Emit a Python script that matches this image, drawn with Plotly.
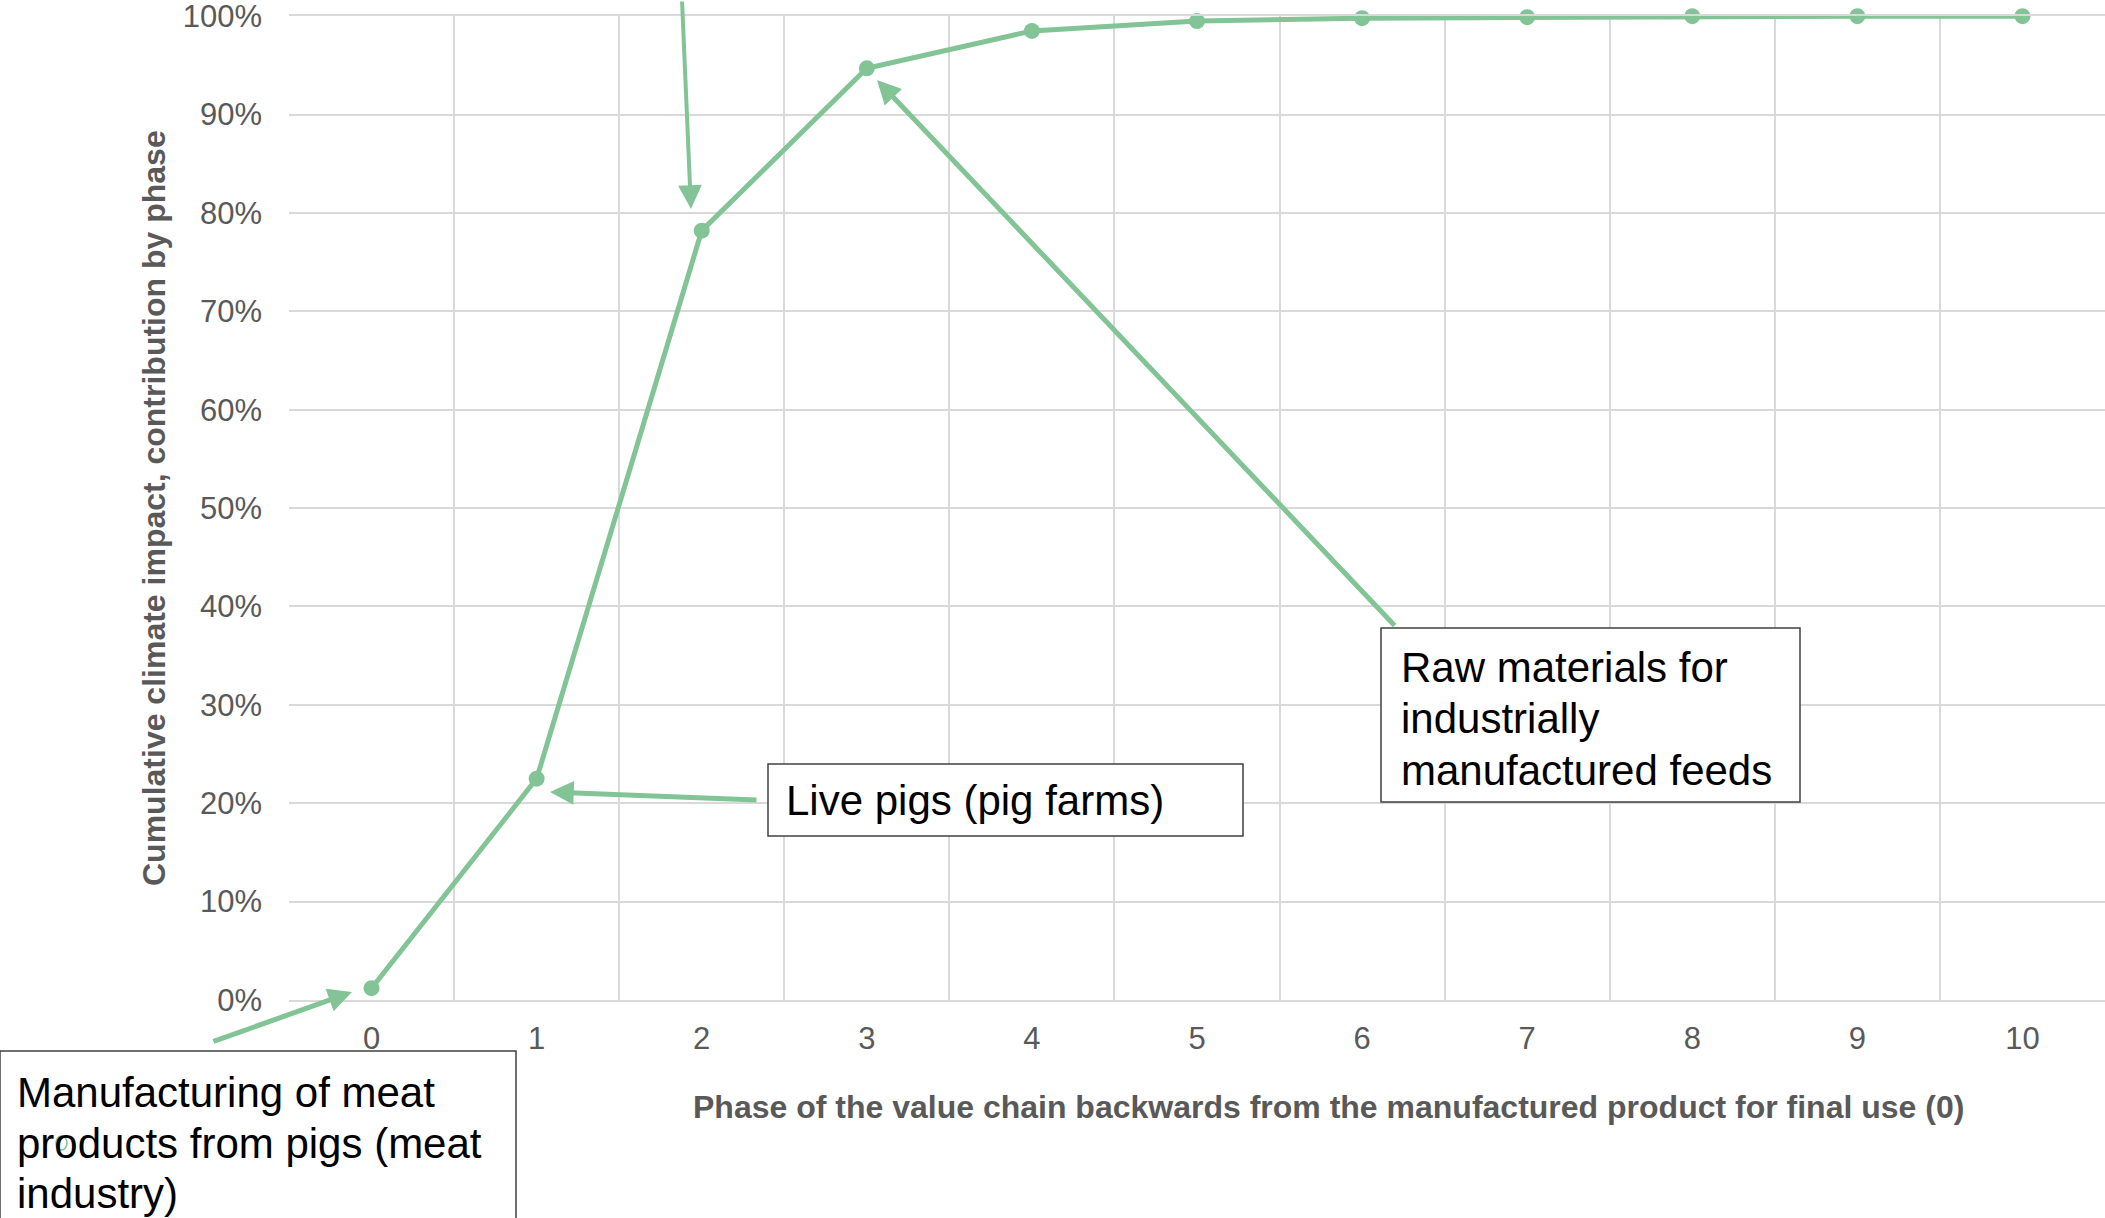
import plotly.graph_objects as go

# ---- data ----
phases = [0, 1, 2, 3, 4, 5, 6, 7, 8, 9, 10]
phase_labels = ["0", "1", "2", "3", "4", "5", "6", "7", "8", "9", "10"]
cumulative_share = [0.012, 0.225, 0.782, 0.947, 0.985, 0.995, 0.998, 0.999, 1.0, 1.0, 1.0]
y_ticks = [0.0, 0.1, 0.2, 0.3, 0.4, 0.5, 0.6, 0.7, 0.8, 0.9, 1.0]
x_title = "Phase of the value chain backwards from the manufactured product for final use (0)"
y_title = "Cumulative climate impact, contribution by phase"
label_live = ["Live pigs (pig farms)"]
label_raw = ["Raw materials for", "industrially", "manufactured feeds"]
label_manu = ["Manufacturing of meat", "products from pigs (meat", "industry)"]

W, H = 2105, 1218
L, R, T, B = 289, 0, 16, 218
PW = W - L - R
PH = H - T - B

GREEN = "rgb(130,196,150)"
GRID = "#D9D9D9"
TXT = "#595959"
FONT = "Liberation Sans, Arial, sans-serif"


def px(x):
    return (x - L) / PW


def py(y):
    return (T + PH - y) / PH


fig = go.Figure()
fig.add_trace(go.Scatter(
    x=phases, y=cumulative_share, mode="lines+markers",
    line=dict(color=GREEN, width=5),
    marker=dict(color=GREEN, size=16),
    cliponaxis=False, showlegend=False,
))

annotations = []
shapes = []

# arrows (pixel positions of the reference): tail -> head, width
arrows = [
    ((682, -20), (691, 209), 4),
    ((1396, 627), (877, 80), 5),
    ((758, 800), (550, 792), 5),
    ((212, 1042), (352, 992), 5),
]
for (sx, sy), (ex, ey), w in arrows:
    annotations.append(dict(
        xref="paper", yref="paper", axref="pixel", ayref="pixel",
        x=px(ex), y=py(ey), ax=sx - ex, ay=sy - ey, text="",
        showarrow=True, arrowhead=2, arrowsize=0.95 * 5 / w, arrowwidth=w,
        arrowcolor=GREEN, standoff=0, startstandoff=0,
    ))

# boxes
boxes = [(768, 764, 1243, 836), (1381, 628, 1800, 802), (0, 1051, 516, 1240)]
for x0, y0, x1, y1 in boxes:
    shapes.append(dict(type="rect", xref="paper", yref="paper",
                       x0=px(x0), x1=px(x1), y0=py(y0), y1=py(y1),
                       line=dict(color="#404040", width=1.5), fillcolor="white",
                       layer="above"))

# stray marker artifact
shapes.append(dict(type="circle", xref="paper", yref="paper",
                   x0=px(56), x1=px(67), y0=py(1136), y1=py(1150),
                   line=dict(color=GREEN, width=1.5), layer="above"))


def add_lines(lines, left, centers):
    for t, c in zip(lines, centers):
        annotations.append(dict(
            xref="paper", yref="paper", x=px(left), y=py(c), text=t,
            xanchor="left", yanchor="middle", showarrow=False,
            font=dict(family=FONT, size=42, color="black"),
        ))


add_lines(label_live, 784, [800])
add_lines(label_raw, 1399, [667, 718, 770])
add_lines(label_manu, 15, [1092, 1143, 1193])

# axis titles
annotations.append(dict(
    xref="paper", yref="paper", x=px(1328), y=py(1107), text="<b>" + x_title + "</b>",
    xanchor="center", yanchor="middle", showarrow=False,
    font=dict(family=FONT, size=32, color=TXT),
))
annotations.append(dict(
    xref="paper", yref="paper", x=px(154), y=0.5, text="<b>" + y_title + "</b>",
    xanchor="center", yanchor="middle", showarrow=False, textangle=-90,
    font=dict(family=FONT, size=32, color=TXT),
))

minor_vals = [p - 0.5 for p in phases] + [phases[-1] + 0.5]

fig.update_layout(
    width=W, height=H,
    margin=dict(l=L, r=R, t=T, b=B),
    paper_bgcolor="white", plot_bgcolor="white",
    font=dict(family=FONT, color=TXT),
    xaxis=dict(
        range=[phases[0] - 0.5, phases[-1] + 0.5],
        tickvals=phases, ticktext=phase_labels,
        showgrid=False, zeroline=False,
        showline=True, linecolor=GRID, linewidth=2, mirror=True,
        tickfont=dict(size=31, color=TXT, family=FONT),
        ticks="", ticklabelstandoff=10, ticklabeloverflow="allow",
        minor=dict(tickvals=minor_vals, showgrid=True, gridcolor=GRID, gridwidth=2, ticks=""),
    ),
    yaxis=dict(
        range=[0, 1.0002], tickvals=y_ticks, tickformat=".0%",
        showgrid=True, gridcolor=GRID, gridwidth=2, zeroline=False,
        showline=False,
        tickfont=dict(size=31, color=TXT, family=FONT),
        ticks="", ticklabelstandoff=26, ticklabeloverflow="allow",
    ),
    annotations=annotations,
    shapes=shapes,
)

fig.write_html(
    "out.html",
    config={"displayModeBar": False},
    post_script="document.body.style.margin='0px';document.body.style.overflow='hidden';",
)
